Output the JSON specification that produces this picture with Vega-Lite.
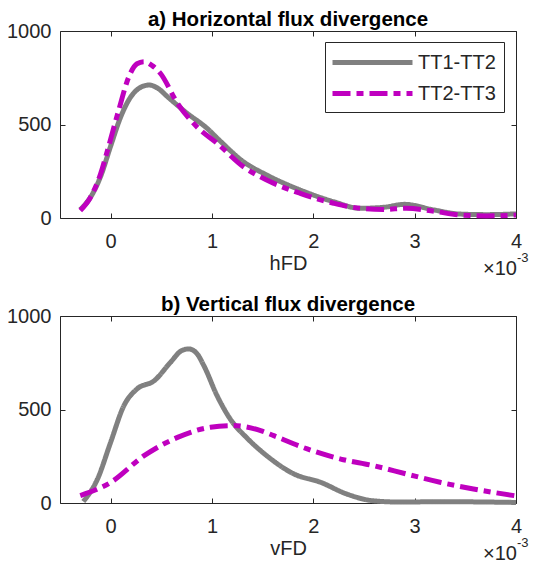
{
  "$schema": "https://vega.github.io/schema/vega-lite/v6.json",
  "background": "white",
  "padding": {"left": 6, "top": 9, "right": 6, "bottom": 0},
  "config": {
    "font": "Liberation Sans",
    "view": {"stroke": "#262626", "strokeWidth": 1},
    "axis": {"grid": false, "domain": false, "tickColor": "#262626", "tickSize": -5, "labelColor": "#262626", "labelFontSize": 20, "titleFontSize": 20, "titleColor": "#262626", "titleFontWeight": "normal", "labelFont": "Liberation Sans", "titleFont": "Liberation Sans"},
    "title": {"fontSize": 20.5, "fontWeight": "bold", "color": "#000000", "offset": -9, "font": "Liberation Sans"},
    "concat": {"spacing": 14}
  },
  "datasets": {
    "hFD": [
      {"series": "TT1-TT2", "x": -0.0003, "y": 45},
      {"series": "TT1-TT2", "x": -0.0002, "y": 110},
      {"series": "TT1-TT2", "x": -0.0001, "y": 221},
      {"series": "TT1-TT2", "x": 0, "y": 385},
      {"series": "TT1-TT2", "x": 0.0001, "y": 542},
      {"series": "TT1-TT2", "x": 0.0002, "y": 649},
      {"series": "TT1-TT2", "x": 0.0003, "y": 700},
      {"series": "TT1-TT2", "x": 0.00038, "y": 711},
      {"series": "TT1-TT2", "x": 0.00047, "y": 692},
      {"series": "TT1-TT2", "x": 0.00056, "y": 649},
      {"series": "TT1-TT2", "x": 0.00075, "y": 562},
      {"series": "TT1-TT2", "x": 0.00095, "y": 480},
      {"series": "TT1-TT2", "x": 0.00108, "y": 412},
      {"series": "TT1-TT2", "x": 0.00131, "y": 301},
      {"series": "TT1-TT2", "x": 0.00154, "y": 230},
      {"series": "TT1-TT2", "x": 0.00187, "y": 150},
      {"series": "TT1-TT2", "x": 0.0022, "y": 87},
      {"series": "TT1-TT2", "x": 0.00246, "y": 52},
      {"series": "TT1-TT2", "x": 0.00269, "y": 57},
      {"series": "TT1-TT2", "x": 0.0029, "y": 73},
      {"series": "TT1-TT2", "x": 0.00319, "y": 43},
      {"series": "TT1-TT2", "x": 0.00345, "y": 21},
      {"series": "TT1-TT2", "x": 0.00371, "y": 18},
      {"series": "TT1-TT2", "x": 0.004, "y": 22},
      {"series": "TT2-TT3", "x": -0.0003, "y": 40},
      {"series": "TT2-TT3", "x": -0.0002, "y": 110},
      {"series": "TT2-TT3", "x": -0.0001, "y": 235},
      {"series": "TT2-TT3", "x": -0.00003, "y": 364},
      {"series": "TT2-TT3", "x": 0.00008, "y": 578},
      {"series": "TT2-TT3", "x": 0.00018, "y": 756},
      {"series": "TT2-TT3", "x": 0.00026, "y": 825},
      {"series": "TT2-TT3", "x": 0.00033, "y": 836},
      {"series": "TT2-TT3", "x": 0.00041, "y": 815},
      {"series": "TT2-TT3", "x": 0.00049, "y": 774},
      {"series": "TT2-TT3", "x": 0.00066, "y": 613},
      {"series": "TT2-TT3", "x": 0.00085, "y": 488},
      {"series": "TT2-TT3", "x": 0.00105, "y": 400},
      {"series": "TT2-TT3", "x": 0.00131, "y": 274},
      {"series": "TT2-TT3", "x": 0.00154, "y": 203},
      {"series": "TT2-TT3", "x": 0.00187, "y": 132},
      {"series": "TT2-TT3", "x": 0.0022, "y": 79},
      {"series": "TT2-TT3", "x": 0.00246, "y": 52},
      {"series": "TT2-TT3", "x": 0.00269, "y": 46},
      {"series": "TT2-TT3", "x": 0.00292, "y": 52},
      {"series": "TT2-TT3", "x": 0.00319, "y": 36},
      {"series": "TT2-TT3", "x": 0.00345, "y": 16},
      {"series": "TT2-TT3", "x": 0.00371, "y": 11},
      {"series": "TT2-TT3", "x": 0.004, "y": 16}
    ],
    "vFD": [
      {"series": "TT1-TT2", "x": -0.00027, "y": 8},
      {"series": "TT1-TT2", "x": -0.00013, "y": 128},
      {"series": "TT1-TT2", "x": 0, "y": 325},
      {"series": "TT1-TT2", "x": 0.00013, "y": 520},
      {"series": "TT1-TT2", "x": 0.00026, "y": 610},
      {"series": "TT1-TT2", "x": 0.00043, "y": 654},
      {"series": "TT1-TT2", "x": 0.00059, "y": 752},
      {"series": "TT1-TT2", "x": 0.0007, "y": 815},
      {"series": "TT1-TT2", "x": 0.00077, "y": 824},
      {"series": "TT1-TT2", "x": 0.00085, "y": 800},
      {"series": "TT1-TT2", "x": 0.00092, "y": 734},
      {"series": "TT1-TT2", "x": 0.00105, "y": 574},
      {"series": "TT1-TT2", "x": 0.00118, "y": 449},
      {"series": "TT1-TT2", "x": 0.00135, "y": 345},
      {"series": "TT1-TT2", "x": 0.00154, "y": 253},
      {"series": "TT1-TT2", "x": 0.00181, "y": 155},
      {"series": "TT1-TT2", "x": 0.00207, "y": 111},
      {"series": "TT1-TT2", "x": 0.00233, "y": 48},
      {"series": "TT1-TT2", "x": 0.00259, "y": 12},
      {"series": "TT1-TT2", "x": 0.00286, "y": 5},
      {"series": "TT1-TT2", "x": 0.00325, "y": 7},
      {"series": "TT1-TT2", "x": 0.004, "y": 3},
      {"series": "TT2-TT3", "x": -0.0003, "y": 40},
      {"series": "TT2-TT3", "x": 0, "y": 110},
      {"series": "TT2-TT3", "x": 0.00033, "y": 253},
      {"series": "TT2-TT3", "x": 0.00066, "y": 351},
      {"series": "TT2-TT3", "x": 0.000985, "y": 405},
      {"series": "TT2-TT3", "x": 0.00121, "y": 414},
      {"series": "TT2-TT3", "x": 0.00148, "y": 387},
      {"series": "TT2-TT3", "x": 0.00161, "y": 360},
      {"series": "TT2-TT3", "x": 0.00194, "y": 289},
      {"series": "TT2-TT3", "x": 0.00227, "y": 235},
      {"series": "TT2-TT3", "x": 0.00259, "y": 200},
      {"series": "TT2-TT3", "x": 0.00292, "y": 155},
      {"series": "TT2-TT3", "x": 0.00325, "y": 111},
      {"series": "TT2-TT3", "x": 0.00358, "y": 75},
      {"series": "TT2-TT3", "x": 0.004, "y": 38}
    ]
  },
  "resolve": {"scale": {"color": "independent", "strokeDash": "independent"}, "legend": {"color": "independent", "strokeDash": "independent"}},
  "vconcat": [
    {
      "title": {"text": "a) Horizontal flux divergence"},
      "width": 456,
      "height": 187,
      "layer": [
        {
          "data": {"name": "hFD"},
          "mark": {"type": "line", "strokeWidth": 5, "interpolate": "monotone"},
          "encoding": {
            "x": {"field": "x", "type": "quantitative", "scale": {"domain": [-0.0005, 0.004], "nice": false, "zero": false},
                  "axis": {"orient": "bottom", "values": [0, 0.001, 0.002, 0.003, 0.004], "labelExpr": "format(datum.value*1000,'d')", "title": "hFD", "labelPadding": 18, "titlePadding": 2, "labelFlush": false}},
            "y": {"field": "y", "type": "quantitative", "scale": {"domain": [0, 1000], "nice": false},
                  "axis": {"orient": "left", "values": [0, 500, 1000], "format": "d", "title": null, "labelPadding": 14}},
            "color": {"field": "series", "type": "nominal", "scale": {"domain": ["TT1-TT2", "TT2-TT3"], "range": ["#808080", "#bf00bf"]},
                      "legend": {"title": null, "orient": "none", "legendX": 265, "legendY": 11, "symbolType": "M-4,0H4", "symbolSize": 400, "symbolStrokeWidth": 5, "symbolOffset": 27, "labelOffset": 33, "labelFontSize": 20, "labelColor": "#262626", "strokeColor": "#262626", "fillColor": "white", "padding": 8, "rowPadding": 8}},
            "strokeDash": {"field": "series", "type": "nominal", "scale": {"domain": ["TT1-TT2", "TT2-TT3"], "range": [[1, 0], [18, 6, 7, 6]]},
                      "legend": {"title": null, "orient": "none", "legendX": 265, "legendY": 11, "symbolType": "M-4,0H4", "symbolSize": 400, "symbolStrokeWidth": 5, "symbolOffset": 27, "labelOffset": 33, "labelFontSize": 20, "labelColor": "#262626", "strokeColor": "#262626", "fillColor": "white", "padding": 8, "rowPadding": 8}}
          }
        },
        {
          "data": {"name": "hFD"},
          "mark": {"type": "point", "opacity": 0},
          "encoding": {
            "x": {"field": "x", "type": "quantitative", "axis": {"orient": "top", "values": [0, 0.001, 0.002, 0.003, 0.004], "labels": false, "title": null}},
            "y": {"field": "y", "type": "quantitative", "axis": {"orient": "right", "values": [0, 500, 1000], "labels": false, "title": null}}
          }
        },
        {
          "data": {"values": [{}]},
          "mark": {"type": "text", "text": "×10", "align": "right", "baseline": "alphabetic", "fontSize": 20, "dx": 1, "dy": 57, "color": "#262626"},
          "encoding": {"x": {"datum": 0.004, "type": "quantitative", "axis": null}, "y": {"datum": 0, "type": "quantitative", "axis": null}}
        },
        {
          "data": {"values": [{}]},
          "mark": {"type": "text", "text": "-3", "align": "left", "baseline": "alphabetic", "fontSize": 13, "dx": 1, "dy": 44, "color": "#262626"},
          "encoding": {"x": {"datum": 0.004, "type": "quantitative", "axis": null}, "y": {"datum": 0, "type": "quantitative", "axis": null}}
        }
      ],
      "resolve": {"axis": {"x": "independent", "y": "independent"}}
    },
    {
      "title": {"text": "b) Vertical flux divergence"},
      "width": 456,
      "height": 187,
      "layer": [
        {
          "data": {"name": "vFD"},
          "mark": {"type": "line", "strokeWidth": 5, "interpolate": "monotone"},
          "encoding": {
            "x": {"field": "x", "type": "quantitative", "scale": {"domain": [-0.0005, 0.004], "nice": false, "zero": false},
                  "axis": {"orient": "bottom", "values": [0, 0.001, 0.002, 0.003, 0.004], "labelExpr": "format(datum.value*1000,'d')", "title": "vFD", "labelPadding": 18, "titlePadding": 2, "labelFlush": false}},
            "y": {"field": "y", "type": "quantitative", "scale": {"domain": [0, 1000], "nice": false},
                  "axis": {"orient": "left", "values": [0, 500, 1000], "format": "d", "title": null, "labelPadding": 14}},
            "color": {"field": "series", "type": "nominal", "scale": {"domain": ["TT1-TT2", "TT2-TT3"], "range": ["#808080", "#bf00bf"]}, "legend": null},
            "strokeDash": {"field": "series", "type": "nominal", "scale": {"domain": ["TT1-TT2", "TT2-TT3"], "range": [[1, 0], [18, 6, 7, 6]]}, "legend": null}
          }
        },
        {
          "data": {"name": "vFD"},
          "mark": {"type": "point", "opacity": 0},
          "encoding": {
            "x": {"field": "x", "type": "quantitative", "axis": {"orient": "top", "values": [0, 0.001, 0.002, 0.003, 0.004], "labels": false, "title": null}},
            "y": {"field": "y", "type": "quantitative", "axis": {"orient": "right", "values": [0, 500, 1000], "labels": false, "title": null}}
          }
        },
        {
          "data": {"values": [{}]},
          "mark": {"type": "text", "text": "×10", "align": "right", "baseline": "alphabetic", "fontSize": 20, "dx": 1, "dy": 57, "color": "#262626"},
          "encoding": {"x": {"datum": 0.004, "type": "quantitative", "axis": null}, "y": {"datum": 0, "type": "quantitative", "axis": null}}
        },
        {
          "data": {"values": [{}]},
          "mark": {"type": "text", "text": "-3", "align": "left", "baseline": "alphabetic", "fontSize": 13, "dx": 1, "dy": 44, "color": "#262626"},
          "encoding": {"x": {"datum": 0.004, "type": "quantitative", "axis": null}, "y": {"datum": 0, "type": "quantitative", "axis": null}}
        }
      ],
      "resolve": {"axis": {"x": "independent", "y": "independent"}}
    }
  ]
}
